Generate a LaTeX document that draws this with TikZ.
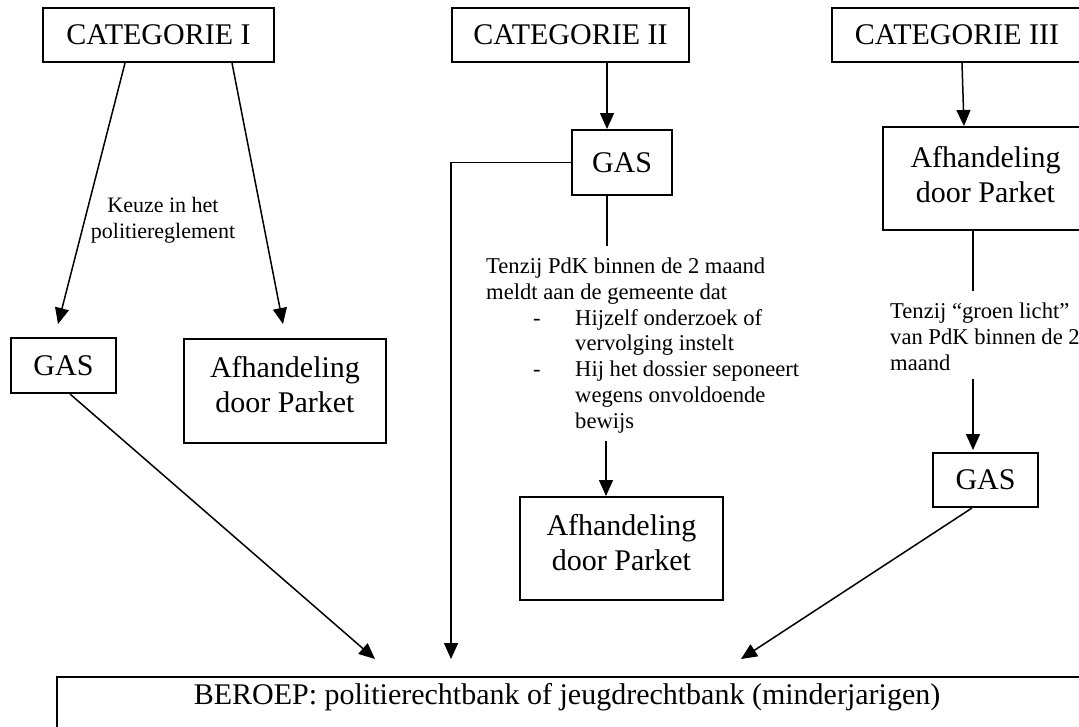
\documentclass[tikz,border=0pt]{standalone}
\usepackage{fontspec}
\setmainfont{Liberation Serif}
\usetikzlibrary{arrows.meta}
\begin{document}
\begin{tikzpicture}[x=1pt,y=-1pt,
  box/.style={draw,line width=2pt,inner sep=0pt,align=center},
  big/.style={font=\fontsize{30}{35}\selectfont},
  small/.style={font=\fontsize{22}{25.7}\selectfont},
  smallb/.style={font=\fontsize{22.6}{25.7}\selectfont},
  ln/.style={line width=1.5pt},
  arr/.style={ln,-{Triangle[length=16pt,width=14pt]}}]
\useasboundingbox (0,0) rectangle (1079,726);

% boxes
\node[box,big,minimum width=231pt,minimum height=54pt] (cat1) at (158.5,35) {CATEGORIE I};
\node[box,big,minimum width=237pt,minimum height=54pt] (cat2) at (570.5,35) {CATEGORIE II};
\node[box,big,minimum width=250pt,minimum height=54pt] (cat3) at (957,35) {CATEGORIE III};
\node[box,big,minimum width=100pt,minimum height=65pt] (gas2) at (622,162.5) {GAS};
\node[box,big,minimum width=105pt,minimum height=55pt] (gas1) at (63.5,365.5) {GAS};
\node[box,minimum width=202pt,minimum height=104pt] (afh1) at (285,391) {};
\node[big,align=center,inner sep=0pt] (afh1t) at ([yshift=6pt]afh1.center) {Afhandeling\\door Parket};
\node[box,minimum width=203pt,minimum height=103pt] (afh2) at (621.5,548.5) {};
\node[big,align=center,inner sep=0pt] (afh2t) at ([yshift=6pt]afh2.center) {Afhandeling\\door Parket};
\node[box,minimum width=199pt,minimum height=103pt] (afh3) at (982.5,178.5) {};
\node[big,align=center,inner sep=0pt] (afh3t) at ([xshift=3pt,yshift=4pt]afh3.center) {Afhandeling\\door Parket};
\node[box,big,minimum width=105pt,minimum height=54pt] (gas3) at (985.5,480) {GAS};
\node[box,minimum width=1028pt,minimum height=58pt] (ber) at (571,706) {};
\node[big,inner sep=0pt] (bert) at (567,697) {BEROEP: politierechtbank of jeugdrechtbank (minderjarigen)};

% texts
\node[small,align=center,inner sep=0pt] (t1) at (163,220) {Keuze in het\\politiereglement};
\node[smallb,align=left,inner sep=0pt,anchor=north west] (t2) at (486,258) {Tenzij PdK binnen de 2 maand\\
meldt aan de gemeente dat\\
\makebox[89pt][l]{\hspace*{47pt}-}Hijzelf onderzoek of\\
\hspace*{89pt}vervolging instelt\\
\makebox[89pt][l]{\hspace*{47pt}-}Hij het dossier seponeert\\
\hspace*{89pt}wegens onvoldoende\\
\hspace*{89pt}bewijs};
\node[smallb,align=left,inner sep=0pt,anchor=north west] (t3) at (890,303) {Tenzij “groen licht”\\van PdK binnen de 2\\maand};

% connectors
\draw[arr] ([xshift=-33.5pt]cat1.south) -- ([xshift=-5.5pt,yshift=13pt]gas1.north);
\draw[arr] ([xshift=73.5pt]cat1.south) -- ([xshift=-2pt,yshift=14pt]afh1.north);
\draw[arr] ([xshift=36.5pt]cat2.south) -- ([xshift=-15pt]gas2.north);
\draw[ln] ([xshift=-15pt]gas2.south) -- ([xshift=-15pt,yshift=-50pt]gas2.south);
\coordinate (tipB) at ([xshift=-120pt,yshift=17pt]ber.north);
\draw[arr] (gas2.west) -| (tipB);
\draw[arr] ([xshift=-15.5pt,yshift=55pt]afh2.north) -- ([xshift=-15.5pt]afh2.north);
\draw[arr] ([xshift=5pt]cat3.south) -- ([xshift=-18.5pt]afh3.north);
\draw[ln] ([xshift=-9.5pt]afh3.south) -- ([xshift=-9.5pt,yshift=-60pt]afh3.south);
\draw[arr] ([xshift=-12.5pt,yshift=73pt]gas3.north) -- ([xshift=-12.5pt,yshift=2pt]gas3.north);
\draw[arr] ([xshift=6.5pt]gas1.south) -- ([xshift=-196pt,yshift=17pt]ber.north);
\draw[arr] ([xshift=-13.5pt]gas3.south) -- ([xshift=170pt,yshift=17pt]ber.north);
\end{tikzpicture}
\end{document}
